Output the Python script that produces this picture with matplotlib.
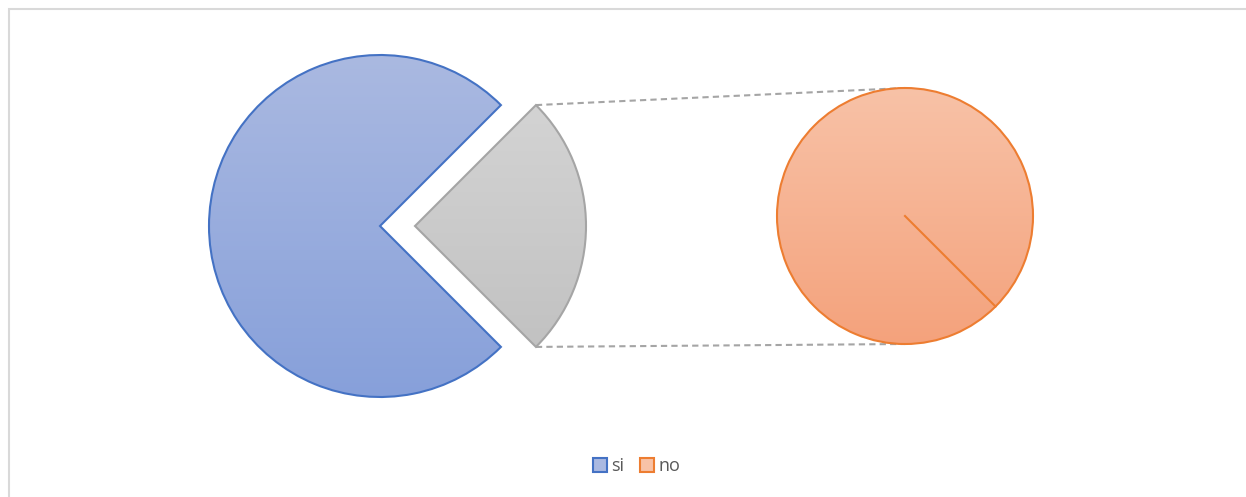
import numpy as np
import matplotlib.pyplot as plt
from matplotlib.patches import Wedge, Patch
from matplotlib.colors import LinearSegmentedColormap

labels = ["si", "no"]
values = [75, 25]
edge_colors = ["#4472C4", "#ED7D31"]
fill_top = ["#AAB9E1", "#F8C2A7"]
fill_bot = ["#87A0DA", "#F4A27C"]
other_top, other_bot, other_edge = "#D7D7D7", "#BEBEBE", "#A5A5A5"

W, H = 1246, 497
fig = plt.figure(figsize=(W / 100, H / 100), dpi=100)
ax = fig.add_axes([0, 0, 1, 1])
ax.set_xlim(0, W)
ax.set_ylim(0, H)
ax.set_aspect("equal")
ax.axis("off")


def grad_wedge(center, r, t1, t2, top, bot, edge):
    w = Wedge(center, r, t1, t2, facecolor="none", edgecolor=edge, lw=1.5, zorder=3)
    ax.add_patch(w)
    cmap = LinearSegmentedColormap.from_list("g", [bot, top])
    g = np.linspace(0, 1, 256).reshape(-1, 1)
    cx, cy = center
    im = ax.imshow(g, cmap=cmap, origin="lower", aspect="auto",
                   extent=[cx - r, cx + r, cy - r, cy + r], zorder=2,
                   interpolation="bilinear")
    im.set_clip_path(w)
    return w


# main pie: "si" and the exploded "other" slice (= no)
frac_no = values[1] / sum(values)
half = 360 * frac_no / 2
c_main = (380, H - 226)
r_main = 171
grad_wedge(c_main, r_main, half, 360 - half, fill_top[0], fill_bot[0], edge_colors[0])
explode = 35
c_other = (c_main[0] + explode, c_main[1])
grad_wedge(c_other, r_main, -half, half, other_top, other_bot, other_edge)

# secondary pie: only "no"
c_sec = (905, H - 216)
r_sec = 128
grad_wedge(c_sec, r_sec, -45, 315, fill_top[1], fill_bot[1], edge_colors[1])
ax.plot([c_sec[0], c_sec[0] + r_sec * np.cos(np.radians(-45))],
        [c_sec[1], c_sec[1] + r_sec * np.sin(np.radians(-45))],
        color=edge_colors[1], lw=1.5, zorder=4)

# connector lines
for s in (1, -1):
    x0 = c_other[0] + r_main * np.cos(np.radians(half))
    y0 = c_other[1] + s * r_main * np.sin(np.radians(half))
    ax.plot([x0, c_sec[0]], [y0, c_sec[1] + s * r_sec], color="#A5A5A5",
            lw=1.5, ls=(0, (3, 2)), zorder=1)

# chart frame
ax.plot([8.5, 8.5, W + 5], [-5, H - 8.5, H - 8.5], color="#D9D9D9", lw=1.5,
        clip_on=False, solid_joinstyle="miter")

handles = [Patch(facecolor=(fill_top[i]), edgecolor=edge_colors[i], lw=1.5, label=labels[i])
           for i in range(2)]
fig.legend(handles=handles, loc="center", bbox_to_anchor=(0.511, 0.062), ncol=2,
           frameon=False, handlelength=0.75, handleheight=0.75, handletextpad=0.25,
           columnspacing=0.9, prop={"family": "Open Sans", "size": 13},
           labelcolor="#595959")

fig.savefig("out.png", dpi=100)
